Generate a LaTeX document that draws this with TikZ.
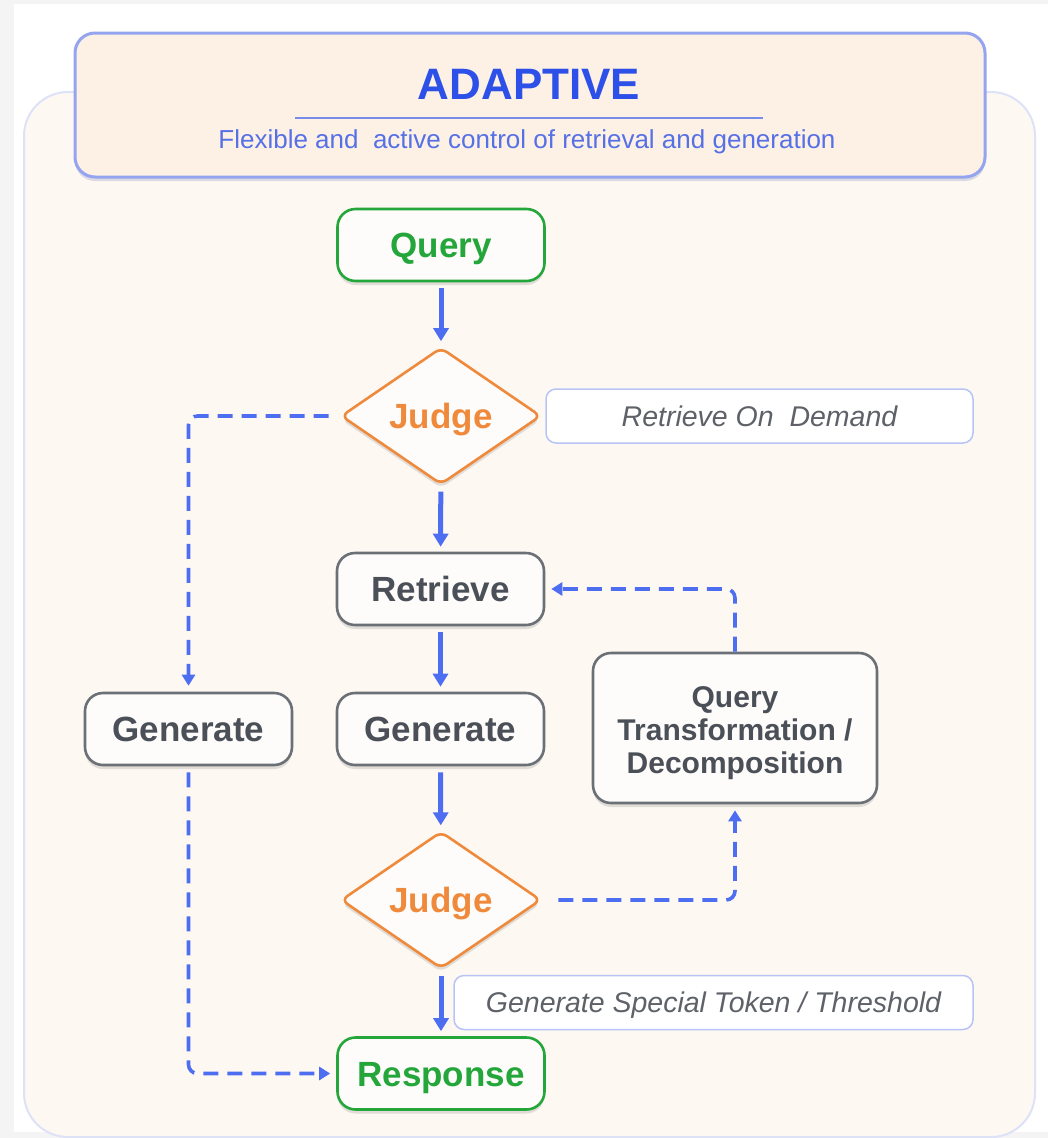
\documentclass[tikz,border=0pt]{standalone}
\usepackage{fontspec}
\setmainfont{Liberation Sans}
\usetikzlibrary{arrows.meta,shapes.geometric,shadows}

\definecolor{pagegrey}{HTML}{F4F4F5}
\definecolor{panelfill}{HTML}{FDF8F2}
\definecolor{panelline}{HTML}{DDE2F7}
\definecolor{headfill}{HTML}{FDF1E5}
\definecolor{headline}{HTML}{94A4EE}
\definecolor{titleblue}{HTML}{2C50E8}
\definecolor{subblue}{HTML}{5670E6}
\definecolor{flowblue}{HTML}{4E6EF2}
\definecolor{okgreen}{HTML}{24A63B}
\definecolor{judgeorange}{HTML}{EF8A3C}
\definecolor{stepgrey}{HTML}{4B5058}
\definecolor{stepline}{HTML}{6B6F76}
\definecolor{notegrey}{HTML}{5E6268}
\definecolor{noteline}{HTML}{B8C4F6}
\definecolor{boxfill}{HTML}{FDFCFA}

\tikzset{
  softshadow/.style={drop shadow={shadow xshift=0pt, shadow yshift=-4pt, opacity=.16, fill=black!70}},
  stepbox/.style={rectangle, rounded corners=18pt, minimum width=207pt, minimum height=72pt,
    line width=2.6pt, fill=boxfill, draw=stepline, text=stepgrey, softshadow,
    font=\fontsize{35}{40}\selectfont\bfseries, text height=25.2pt, text depth=0pt, inner sep=0pt},
  endbox/.style={stepbox, draw=okgreen, text=okgreen},
  judgebox/.style={diamond, aspect=1.46, minimum width=200pt, minimum height=137pt, inner sep=0pt,
    line width=2.6pt, rounded corners=7pt, fill=boxfill, draw=judgeorange, text=judgeorange, softshadow,
    font=\fontsize{35}{40}\selectfont\bfseries, text height=25.2pt, text depth=0pt},
  notebox/.style={rectangle, rounded corners=10pt, minimum height=54pt, line width=1.5pt,
    fill=white, draw=noteline, text=notegrey, inner sep=0pt,
    font=\fontsize{28.5}{33}\selectfont\itshape, text height=20.5pt, text depth=0pt},
  flow/.style={draw=flowblue, line width=5pt, -{Triangle[width=15pt,length=13pt]},
    shorten <=6pt, shorten >=5pt},
  altflow/.style={draw=flowblue, line width=3.6pt, dash pattern=on 15pt off 9pt,
    rounded corners=9pt, -{Triangle[width=13pt,length=11pt]}, shorten >=6pt}
}

\begin{document}
\begin{tikzpicture}[x=1pt, y=-1pt]
  % page and outer panel
  \fill[pagegrey] (0,0) rectangle (1048,1138);
  \fill[white] (14,4) rectangle (1048,1132);
  \useasboundingbox (0,0) rectangle (1048,1138);
  \draw[panelline, fill=panelfill, line width=2pt, rounded corners=44pt]
    (24,92) rectangle (1035,1137);

  % header
  \node[rectangle, rounded corners=20pt, minimum width=910pt, minimum height=144pt,
        fill=headfill, draw=headline, line width=3pt,
        drop shadow={shadow xshift=0pt, shadow yshift=-4pt, opacity=.25, fill=headline!80!black}]
        (header) at (530,105) {};
  \node[text=titleblue, font=\fontsize{44}{50}\selectfont\bfseries, inner sep=0pt,
        text height=31.5pt, text depth=0pt] (title) at (529,84) {ADAPTIVE};
  \draw[subblue!80, line width=1.4pt] (295,118) -- (763,118);
  \node[text=subblue, font=\fontsize{26}{30}\selectfont, inner sep=0pt,
        text height=18.7pt, text depth=0pt] (subtitle) at (527,139)
        {Flexible and~ active control of retrieval and generation};

  % main column
  \node[endbox] (query) at (441,245) {Query};
  \node[judgebox] (judgeA) at (441,416) {Judge};
  \node[stepbox] (retrieve) at (440.5,589) {Retrieve};
  \node[stepbox] (genmid) at (440.5,729) {Generate};
  \node[judgebox] (judgeB) at (441,900) {Judge};
  \node[endbox] (response) at (441,1073.5) {Response};

  % side steps
  \node[stepbox] (genleft) at (188.5,729) {Generate};
  \node[stepbox, minimum width=284pt, minimum height=150pt] (qt) at (735,728) {};
  \node[text=stepgrey, align=center, inner sep=0pt,
        font=\fontsize{30}{33}\selectfont\bfseries] (qtlabel) at (735,733)
        {Query\\Transformation /\\Decomposition};

  % notes
  \node[notebox, minimum width=427pt] (demand) at (759.5,416) {Retrieve On~ Demand};
  \node[notebox, minimum width=519pt] (token) at (713.5,1002.5)
        {Generate Special Token / Threshold};

  % solid flow
  \draw[flow] (query) -- (judgeA);
  \draw[flow] (judgeA) -- (retrieve);
  \draw[flow] (retrieve) -- (genmid);
  \draw[flow] (genmid) -- (judgeB);
  \draw[flow] (judgeB) -- (response);

  % alternative paths
  \draw[altflow, shorten <=11pt] (judgeA.west) -| (genleft.north);
  \draw[altflow, shorten <=6pt] (genleft.south) |- (response.west);
  \draw[altflow, shorten <=16pt] (judgeB.east) -| (qt.south);
  \draw[altflow, shorten <=0pt] (qt.north) |- (retrieve.east);
\end{tikzpicture}
\end{document}
